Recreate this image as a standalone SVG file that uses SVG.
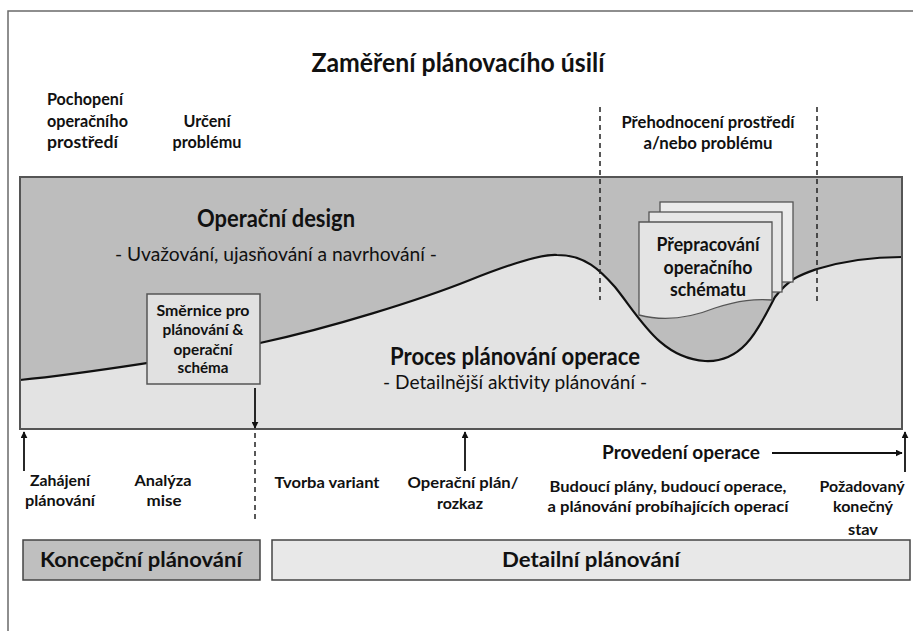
<svg xmlns="http://www.w3.org/2000/svg" width="913" height="631" viewBox="0 0 913 631">
<defs>
<marker id="ah" viewBox="0 0 10 10" refX="9" refY="5" markerWidth="7" markerHeight="7" markerUnits="userSpaceOnUse" orient="auto"><path d="M0,0 L10,5 L0,10 Z" fill="#111"/></marker>
<style>
text{font-family:Lato,"Liberation Sans",Arial,sans-serif;fill:#111}
.b{font-weight:bold}
.c{text-anchor:middle}
.t15{font-size:17px}
.t14{font-size:16px}
.big{font-size:24px;font-weight:bold}
.sub{font-size:19.5px}
.conn{stroke:#111;stroke-width:1.8;fill:none}
.dash{stroke:#222;stroke-width:1.5;stroke-dasharray:5,4;fill:none}
</style>
</defs>
<rect x="8" y="11" width="920" height="640" fill="#fff" stroke="#6a6a6a" stroke-width="1.5"/>

<g id="title"><text class="b c" x="458" y="72" font-size="26" textLength="293" lengthAdjust="spacingAndGlyphs">Zaměření plánovacího úsilí</text></g>

<g id="pochopeni">
<text class="b t15" x="47" y="105" textLength="76" lengthAdjust="spacingAndGlyphs">Pochopení</text>
<text class="b t15" x="47" y="127" textLength="81" lengthAdjust="spacingAndGlyphs">operačního</text>
<text class="b t15" x="47" y="148" textLength="71" lengthAdjust="spacingAndGlyphs">prostředí</text>
</g>
<g id="urceni">
<text class="b c t15" x="207" y="127" textLength="47" lengthAdjust="spacingAndGlyphs">Určení</text>
<text class="b c t15" x="207" y="148" textLength="69" lengthAdjust="spacingAndGlyphs">problému</text>
</g>

<g id="main">
<rect x="20" y="177" width="882" height="252" fill="#e3e3e3"/>
<path id="design-area" d="M20,177 H902 V257 C880,257 850,259 817,269 C800,275 790,278 775,297 C760,325 745,363 705,361 C660,358 640,318 615,287 C600,270 585,255 557,255 C540,254 510,264 470,280 C420,300 330,328 260,343 C200,356 80,374 20,380 Z" fill="#bdbdbd"/>
<path d="M20,380 C80,374 200,356 260,343 C330,328 420,300 470,280 C510,264 540,254 557,255 C585,255 600,270 615,287 C640,318 660,358 705,361 C745,363 760,325 775,297 C790,278 800,275 817,269 C850,259 880,257 902,257" fill="none" stroke="#111" stroke-width="2.2"/>
<rect x="20" y="177" width="882" height="252" fill="none" stroke="#555" stroke-width="2"/>
</g>

<g id="design-label">
<text class="big c" x="276" y="227" textLength="158" lengthAdjust="spacingAndGlyphs">Operační design</text>
<text class="sub c" x="276" y="261" textLength="322" lengthAdjust="spacingAndGlyphs">- Uvažování, ujasňování a navrhování -</text>
</g>

<g id="proces-label">
<text class="big c" x="515" y="365" textLength="250" lengthAdjust="spacingAndGlyphs">Proces plánování operace</text>
<text class="sub c" x="515" y="389" textLength="264" lengthAdjust="spacingAndGlyphs">- Detailnější aktivity plánování -</text>
</g>

<g id="smernice">
<rect x="147" y="294" width="113" height="90" fill="#e1e1e1" stroke="#555" stroke-width="1.5"/>
<text class="b c" font-size="15.5" x="203" y="316" textLength="93" lengthAdjust="spacingAndGlyphs">Směrnice pro</text>
<text class="b c" font-size="15.5" x="203" y="335" textLength="81" lengthAdjust="spacingAndGlyphs">plánování &amp;</text>
<text class="b c" font-size="15.5" x="203" y="355" textLength="59" lengthAdjust="spacingAndGlyphs">operační</text>
<text class="b c" font-size="15.5" x="203" y="373" textLength="51" lengthAdjust="spacingAndGlyphs">schéma</text>
</g>

<g id="prehodnoceni">
<text class="b c t15" x="708" y="128" textLength="173" lengthAdjust="spacingAndGlyphs">Přehodnocení prostředí</text>
<text class="b c t15" x="708" y="149" textLength="129" lengthAdjust="spacingAndGlyphs">a/nebo problému</text>
</g>

<g id="prepracovani">
<rect x="660" y="202" width="133" height="80" fill="#ebebeb" stroke="#555" stroke-width="1.3"/>
<rect x="649" y="212" width="133" height="80" fill="#e7e7e7" stroke="#555" stroke-width="1.3"/>
<path d="M639,222 H772 V300 C755,299 740,300 715,308 C690,318 665,322 639,315 Z" fill="#e4e4e4" stroke="#555" stroke-width="1.3"/>
<text class="b c" font-size="18" x="708" y="251" textLength="103" lengthAdjust="spacingAndGlyphs">Přepracování</text>
<text class="b c" font-size="18" x="708" y="274" textLength="89" lengthAdjust="spacingAndGlyphs">operačního</text>
<text class="b c" font-size="18" x="708" y="296" textLength="76" lengthAdjust="spacingAndGlyphs">schématu</text>
</g>

<g id="connectors">
<line class="dash" x1="600" y1="107" x2="600" y2="300"/>
<line class="dash" x1="817" y1="107" x2="817" y2="303"/>
<line class="conn" x1="255" y1="388" x2="255" y2="428" marker-end="url(#ah)"/>
<line class="dash" x1="255" y1="433" x2="255" y2="521"/>
<line class="conn" x1="24" y1="471" x2="24" y2="432" marker-end="url(#ah)"/>
<line class="conn" x1="465" y1="471" x2="465" y2="432" marker-end="url(#ah)"/>
<line class="conn" x1="905" y1="472" x2="905" y2="432" marker-end="url(#ah)"/>
<line class="conn" x1="772" y1="453" x2="902" y2="453" stroke-width="1.3" marker-end="url(#ah)"/>
</g>

<g id="zahajeni">
<text class="b c t14" x="60" y="486" textLength="60" lengthAdjust="spacingAndGlyphs">Zahájení</text>
<text class="b c t14" x="60" y="506" textLength="70" lengthAdjust="spacingAndGlyphs">plánování</text>
</g>
<g id="analyza">
<text class="b c t14" x="163" y="486" textLength="57" lengthAdjust="spacingAndGlyphs">Analýza</text>
<text class="b c t14" x="164" y="506" textLength="35" lengthAdjust="spacingAndGlyphs">mise</text>
</g>
<g id="tvorba">
<text class="b c t14" x="327" y="488" textLength="105" lengthAdjust="spacingAndGlyphs">Tvorba variant</text>
</g>
<g id="operacni-plan">
<text class="b c t14" x="463" y="488" textLength="111" lengthAdjust="spacingAndGlyphs">Operační plán/</text>
<text class="b c t14" x="460" y="509" textLength="46" lengthAdjust="spacingAndGlyphs">rozkaz</text>
</g>
<g id="provedeni">
<text class="b c" font-size="19" x="681" y="459" textLength="158" lengthAdjust="spacingAndGlyphs">Provedení operace</text>
</g>
<g id="budouci">
<text class="b c t14" x="668" y="492" textLength="237" lengthAdjust="spacingAndGlyphs">Budoucí plány, budoucí operace,</text>
<text class="b c t14" x="668" y="512" textLength="241" lengthAdjust="spacingAndGlyphs">a plánování probíhajících operací</text>
</g>
<g id="pozadovany">
<text class="b c t14" x="862" y="492" textLength="85" lengthAdjust="spacingAndGlyphs">Požadovaný</text>
<text class="b c t14" x="863" y="512" textLength="60" lengthAdjust="spacingAndGlyphs">konečný</text>
<text class="b c t14" x="863" y="535" textLength="30" lengthAdjust="spacingAndGlyphs">stav</text>
</g>

<g id="koncepcni">
<rect x="23" y="540" width="237" height="40" fill="#bfbfbf" stroke="#444" stroke-width="1.5"/>
<text class="b c" font-size="20" x="141" y="567" textLength="202" lengthAdjust="spacingAndGlyphs">Koncepční plánování</text>
</g>
<g id="detailni">
<rect x="272" y="540" width="638" height="40" fill="#e8e8e8" stroke="#444" stroke-width="1.5"/>
<text class="b c" font-size="20" x="591" y="567" textLength="178" lengthAdjust="spacingAndGlyphs">Detailní plánování</text>
</g>
</svg>
